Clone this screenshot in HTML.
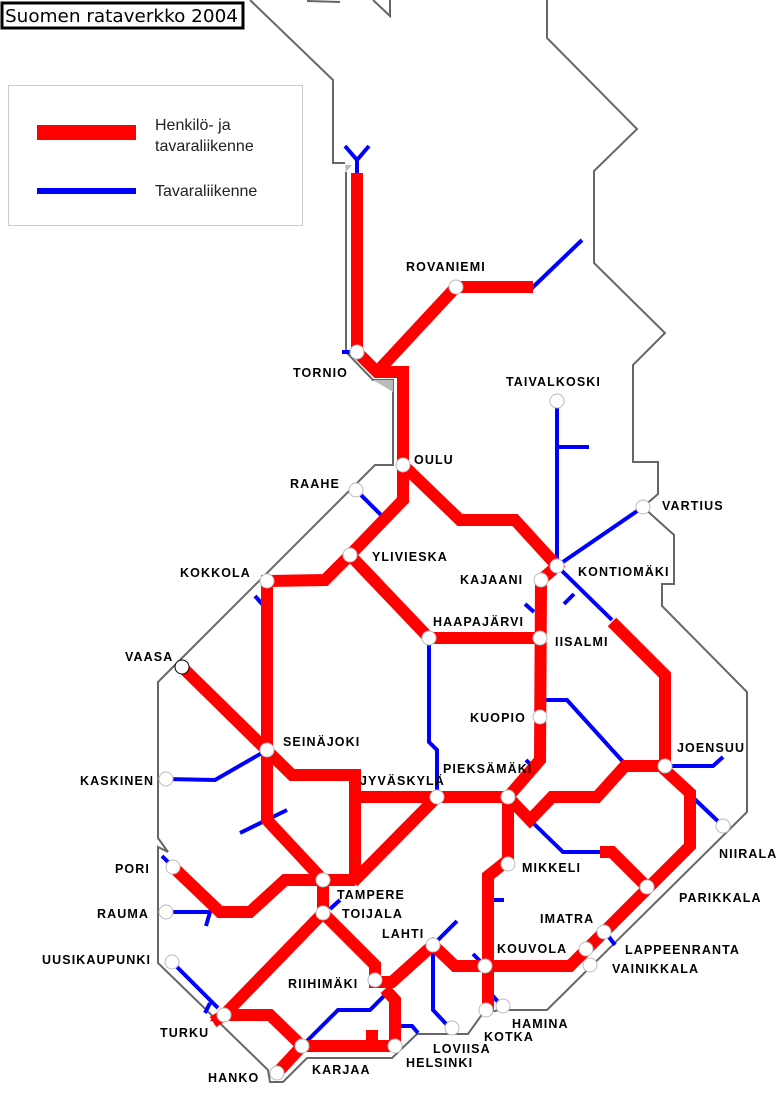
<!DOCTYPE html>
<html><head><meta charset="utf-8"><style>
html,body{margin:0;padding:0;background:#fff;}
svg{display:block;}
.r{fill:none;stroke:#f00;stroke-width:12;stroke-linejoin:miter;}
.b{fill:none;stroke:#00f;stroke-width:4;}
.g{fill:none;stroke:#666;stroke-width:2;}
.l text{font-family:"Liberation Sans",sans-serif;font-weight:bold;font-size:12.5px;letter-spacing:1.1px;fill:#000;}
circle{fill:#fff;stroke:#bbb;stroke-width:1;}
</style></head><body>
<svg width="778" height="1098" viewBox="0 0 778 1098" xmlns="http://www.w3.org/2000/svg">
<polyline class="g" points="250,0 333,80 333,163 345,163"/>
<polyline class="g" points="307,1 340,2"/>
<polyline class="g" points="373,0 390,16 390,0"/>
<polyline class="g" points="346,172 346,352 373,380 393,380 393,465 375,465 175,665 158,682 158,838 168,852 158,847 158,963 268,1070 270,1082 283,1082 307,1058 392,1058 417,1034 468,1034 483,1013 500,1010 547,1010 747,812 747,692 662,606 662,584 674,584 674,535 643,507 658,494 658,462 633,462 633,365 665,333 594,263 594,171 637,129 547,38 547,0"/>
<polygon points="346,172 352,165 345,165" fill="#bbb"/>
<polygon points="373,380 393,380 393,392" fill="#bbb"/>
<g class="b">
<polyline points="357,175 357,160 345,146"/><polyline points="357,160 369,146"/>
<polyline points="342,352 352,352"/>
<polyline points="530,290 582,240"/>
<polyline points="356,490 382,516"/>
<polyline points="255,596 263,605"/>
<polyline points="557,401 557,566 643,507"/>
<polyline points="557,447 589,447"/>
<polyline points="557,566 612,620"/>
<polyline points="564,604 574,594"/>
<polyline points="525,604 534,612"/>
<polyline points="429,638 429,742 437,750 437,797"/>
<polyline points="540,700 567,700 625,764"/>
<polyline points="526,760 534,768"/>
<polyline points="267,750 215,780 166,779"/>
<polyline points="240,833 287,810"/>
<polyline points="665,766 713,766 723,757"/>
<polyline points="685,790 723,826"/>
<polyline points="528,818 563,852 602,852"/>
<polyline points="162,856 172,866"/>
<polyline points="166,912 210,912 206,926"/>
<polyline points="172,962 218,1008"/><polyline points="210,1003 205,1013"/>
<polyline points="330,909 340,900"/>
<polyline points="302,1046 338,1010 370,1010 385,995"/>
<polyline points="395,1026 412,1026 418,1033"/>
<polyline points="433,945 457,921"/>
<polyline points="433,945 433,1010 450,1028"/>
<polyline points="473,954 481,962"/>
<polyline points="490,900 504,900"/>
<polyline points="492,995 499,1003"/>
<polyline points="609,937 615,945"/>
</g>
<g class="r">
<polyline points="357,173 357,352 377,372 403,372 403,500 350,555 325,580 267,581 267,820 323,880"/>
<polyline points="377,372 456,287 533,287"/>
<polyline points="403,465 460,520 515,520 557,566 541,580 540,760 508,797"/>
<polyline points="350,555 429,638 540,638"/>
<polyline points="182,667 292,775 355,775 355,880"/>
<polyline points="355,797 508,797"/>
<polyline points="437,797 353,882"/>
<polyline points="173,867 220,912 250,912 285,880 355,880"/>
<polyline points="323,880 323,913 224,1015 270,1015 302,1046 395,1046"/>
<polyline points="302,1046 277,1073"/>
<polyline points="323,913 375,965 375,982 392,982 433,945 455,966 570,966 690,846 690,793 665,770 665,675 612,622"/>
<polyline points="385,989 395,1000 395,1046"/>
<polyline points="372,1030 372,1046"/>
<polyline points="224,1015 213,1022"/>
<polyline points="508,797 508,860 488,876 488,1010"/>
<polyline points="508,797 530,820 552,797 597,797 625,766 665,766"/>
<polyline points="600,852 612,852 647,887"/>
</g>
<g>
<circle cx="357" cy="352" r="7"/><circle cx="456" cy="287" r="7"/><circle cx="557" cy="401" r="7"/>
<circle cx="403" cy="465" r="7"/><circle cx="356" cy="490" r="7"/><circle cx="643" cy="507" r="7"/>
<circle cx="350" cy="555" r="7"/><circle cx="557" cy="566" r="7"/><circle cx="541" cy="580" r="7"/>
<circle cx="267" cy="581" r="7"/><circle cx="429" cy="638" r="7"/><circle cx="540" cy="638" r="7"/>
<circle cx="182" cy="667" r="7" style="stroke:#000"/><circle cx="540" cy="717" r="7"/><circle cx="267" cy="750" r="7"/>
<circle cx="665" cy="766" r="7"/><circle cx="166" cy="779" r="7"/><circle cx="437" cy="797" r="7"/>
<circle cx="508" cy="797" r="7"/><circle cx="723" cy="826" r="7"/><circle cx="508" cy="864" r="7"/>
<circle cx="173" cy="867" r="7"/><circle cx="323" cy="880" r="7"/><circle cx="647" cy="887" r="7"/>
<circle cx="166" cy="912" r="7"/><circle cx="323" cy="913" r="7"/><circle cx="604" cy="932" r="7"/>
<circle cx="433" cy="945" r="7"/><circle cx="586" cy="949" r="7"/><circle cx="172" cy="962" r="7"/>
<circle cx="485" cy="966" r="7"/><circle cx="590" cy="965" r="7"/><circle cx="375" cy="980" r="7"/>
<circle cx="486" cy="1010" r="7"/><circle cx="503" cy="1006" r="7"/><circle cx="224" cy="1015" r="7"/>
<circle cx="452" cy="1028" r="7"/><circle cx="302" cy="1046" r="7"/><circle cx="395" cy="1046" r="7"/>
<circle cx="277" cy="1073" r="7"/>
</g>
<g class="l">
<text x="406" y="271">ROVANIEMI</text><text x="293" y="377">TORNIO</text><text x="506" y="386">TAIVALKOSKI</text>
<text x="414" y="464">OULU</text><text x="290" y="488">RAAHE</text><text x="662" y="510">VARTIUS</text>
<text x="372" y="561">YLIVIESKA</text><text x="180" y="577">KOKKOLA</text><text x="578" y="576">KONTIOMÄKI</text>
<text x="460" y="584">KAJAANI</text><text x="433" y="626">HAAPAJÄRVI</text><text x="555" y="646">IISALMI</text>
<text x="125" y="661">VAASA</text><text x="470" y="722">KUOPIO</text><text x="283" y="746">SEINÄJOKI</text>
<text x="677" y="752">JOENSUU</text><text x="80" y="785">KASKINEN</text><text x="360" y="785">JYVÄSKYLÄ</text>
<text x="443" y="773">PIEKSÄMÄKI</text><text x="719" y="858">NIIRALA</text><text x="522" y="872">MIKKELI</text>
<text x="115" y="873">PORI</text><text x="337" y="899">TAMPERE</text><text x="679" y="902">PARIKKALA</text>
<text x="97" y="918">RAUMA</text><text x="342" y="918">TOIJALA</text><text x="540" y="923">IMATRA</text>
<text x="382" y="938">LAHTI</text><text x="625" y="954">LAPPEENRANTA</text><text x="497" y="953">KOUVOLA</text>
<text x="42" y="964">UUSIKAUPUNKI</text><text x="612" y="973">VAINIKKALA</text><text x="288" y="988">RIIHIMÄKI</text>
<text x="512" y="1028">HAMINA</text><text x="484" y="1041">KOTKA</text><text x="160" y="1037">TURKU</text>
<text x="433" y="1053">LOVIISA</text><text x="312" y="1074">KARJAA</text><text x="406" y="1067">HELSINKI</text>
<text x="208" y="1082">HANKO</text>
</g>
<rect x="2" y="3" width="241" height="25" fill="#fff" stroke="#000" stroke-width="3"/>
<text x="5" y="22" font-family="DejaVu Sans, sans-serif" font-size="18" fill="#000" textLength="233" lengthAdjust="spacingAndGlyphs">Suomen rataverkko 2004</text>
<rect x="8.5" y="85.5" width="294" height="140" fill="#fff" stroke="#ccc" stroke-width="1"/>
<rect x="37" y="125" width="99" height="15" fill="#f00"/>
<rect x="37" y="188" width="99" height="6" fill="#00f"/>
<g font-family="Liberation Sans, sans-serif" font-size="16" fill="#222">
<text x="155" y="130">Henkilö- ja</text>
<text x="155" y="151">tavaraliikenne</text>
<text x="155" y="196">Tavaraliikenne</text>
</g>
</svg>
</body></html>
